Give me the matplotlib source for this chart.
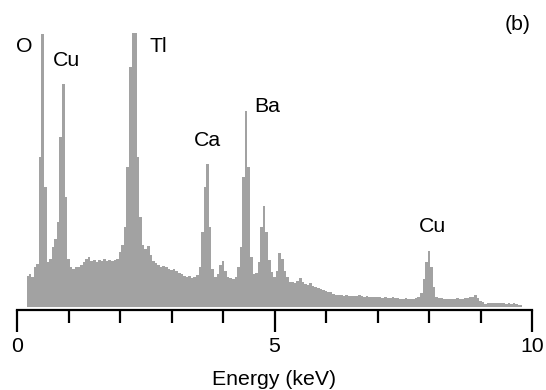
import matplotlib
matplotlib.use("Agg")
import matplotlib.pyplot as plt
import numpy as np

# EDS spectrum: energy (keV) bin centres, 0.05 keV steps, and counts (arb.)
energy_start = 0.20
energy_step = 0.05
counts = [
    31, 33, 30, 40, 43, 150, 273, 120, 45, 48,            # 0.20-0.65
    60, 68, 85, 170, 223, 110, 48, 40, 38, 40,            # 0.70-1.15
    40, 42, 45, 48, 50, 46, 47, 45, 47, 46,               # 1.20-1.65
    48, 46, 47, 46, 47, 48, 55, 62, 80, 140,              # 1.70-2.15
    240, 274, 274, 150, 90, 62, 58, 61, 52, 46,           # 2.20-2.65
    44, 42, 40, 41, 40, 38, 37, 38, 36, 34,               # 2.70-3.15
    33, 31, 30, 31, 29, 30, 32, 40, 75, 120,              # 3.20-3.65
    143, 80, 38, 30, 33, 42, 46, 36, 30, 29,              # 3.70-4.15
    28, 30, 40, 60, 130, 196, 140, 50, 33, 34,            # 4.20-4.65
    45, 80, 101, 75, 47, 35, 30, 36, 54, 48,              # 4.70-5.15
    36, 30, 25, 25, 24, 26, 29, 25, 23, 22,               # 5.20-5.65
    24, 21, 20, 19, 18, 17, 16, 15, 15, 13,               # 5.70-6.15
    12, 12, 12, 11, 12, 11, 11, 11, 11, 12,               # 6.20-6.65
    11, 10, 11, 10, 10, 10, 10, 10, 9, 10,                # 6.70-7.15
    9, 9, 10, 9, 9, 8, 8, 9, 8, 8,                        # 7.20-7.65
    8, 9, 10, 14, 28, 45, 56, 40, 20, 10,                 # 7.70-8.15
    9, 9, 8, 8, 8, 8, 8, 9, 8, 8,                         # 8.20-8.65
    9, 9, 10, 10, 12, 9, 6, 5, 3, 4,                      # 8.70-9.15
    4, 4, 4, 4, 4, 4, 3, 4, 3, 4,                         # 9.20-9.65
    3, 2, 2,                                              # 9.70-9.80
]
energy = np.round(energy_start + energy_step * np.arange(len(counts)), 3)

# Peak labels: text, energy (keV), height (counts)
peak_labels = ["O", "Cu", "Tl", "Ca", "Ba", "Cu"]
peak_label_x = [0.14, 0.97, 2.74, 3.69, 4.86, 8.07]
peak_label_y = [260, 247, 260, 167, 200, 80]

xticks_major = [0, 5, 10]
xticks_minor = [1, 2, 3, 4, 6, 7, 8, 9]

FS = 15.3
W, H = 546, 390
fig = plt.figure(figsize=(W / 100, H / 100), dpi=100)
plt.rcParams['font.family'] = ['Liberation Sans', 'DejaVu Sans']
ax = fig.add_axes([17 / W, (H - 310) / H, 515 / W, 310 / H])

gray = "#a2a2a2"
ax.fill_between(energy, counts, 0, step="mid", color=gray, linewidth=0)

ax.set_xlim(0, 10)
ax.set_ylim(-3, 307)

for s in ["top", "right", "left"]:
    ax.spines[s].set_visible(False)
ax.spines["bottom"].set_linewidth(1.6)
ax.spines["bottom"].set_capstyle("projecting")
ax.set_yticks([])

ax.set_xticks(xticks_major)
ax.set_xticklabels([str(t) for t in xticks_major])
ax.set_xticks(xticks_minor, minor=True)
ax.tick_params(axis="x", which="major", direction="out", length=15.8, width=1.6,
               pad=4, labelsize=FS)
ax.tick_params(axis="x", which="minor", direction="out", length=9.4, width=1.6)

ax.set_xlabel("Energy (keV)", fontsize=FS, labelpad=10)

for t, x, y in zip(peak_labels, peak_label_x, peak_label_y):
    ax.text(x, y, t, fontsize=FS, ha="center", va="center")

ax.text(518 / W, (H - 25) / H, "(b)", transform=fig.transFigure, fontsize=FS,
        ha="center", va="center")

fig.savefig("out.png", dpi=100)
